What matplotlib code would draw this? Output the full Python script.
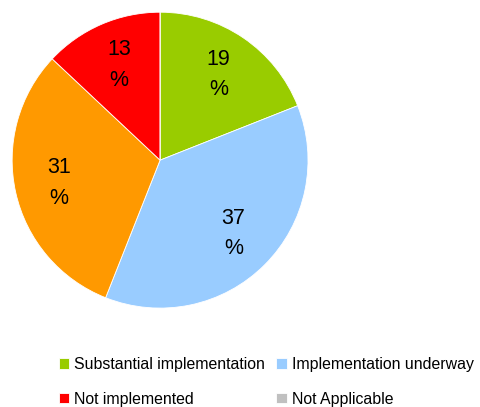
import matplotlib
matplotlib.use('Agg')
import matplotlib.pyplot as plt

# Slice data (clockwise from 12 o'clock)
values = [19, 37, 31, 13, 0]
slice_names = ['Substantial implementation', 'Implementation underway',
               'Partially implemented', 'Not implemented', 'Not Applicable']
colors = ['#99CC00', '#99CCFF', '#FF9900', '#FF0000', '#C0C0C0']

plt.rcParams['font.family'] = ['Liberation Sans', 'DejaVu Sans']

fig = plt.figure(figsize=(4.8, 4.07), dpi=100)
ax = fig.add_axes([0.025, 0.243, 0.617, 0.727])

wedges, texts, autotexts = ax.pie(
    values, colors=colors, startangle=90, counterclock=False,
    autopct=lambda p: '%d\n%%' % round(p) if p > 0 else '',
    pctdistance=0.7, wedgeprops=dict(linewidth=0.6, edgecolor='white'),
    textprops=dict(fontsize=15.5, linespacing=1.6))
ax.set_xlim(-1, 1)
ax.set_ylim(-1, 1)
ax.set_aspect('equal')

# Legend entries, row by row: (Substantial, Underway) / (Not impl., N/A)
order = [0, 3, 1, 4]
handles = [wedges[i] for i in order]
labels = [slice_names[i] for i in order]
fig.legend(handles, labels, ncol=2, loc='lower left',
           bbox_to_anchor=(0.109, -0.015), frameon=False, fontsize=11.4,
           handlelength=0.65, handleheight=0.65, handletextpad=0.35,
           columnspacing=0.7, labelspacing=1.25, borderaxespad=0)

fig.savefig('out.png', dpi=100)
